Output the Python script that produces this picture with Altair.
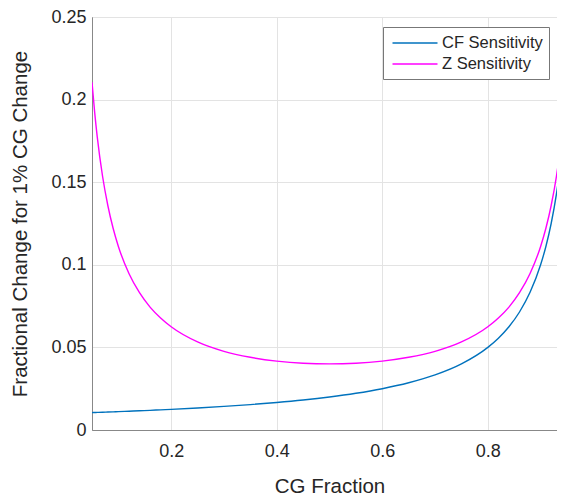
import altair as alt
import pandas as pd

cg_fraction = [0.05, 0.055, 0.06, 0.07, 0.08, 0.09, 0.10, 0.12, 0.14, 0.16, 0.18,
               0.20, 0.25, 0.30, 0.35, 0.40, 0.45, 0.50, 0.55, 0.60, 0.65, 0.70,
               0.75, 0.80, 0.82, 0.84, 0.86, 0.88, 0.90, 0.91, 0.92, 0.93, 0.94,
               0.945, 0.95]
cf_sensitivity = [0.01053, 0.01058, 0.01064, 0.01075, 0.01087, 0.01099, 0.01111,
                  0.01136, 0.01163, 0.01190, 0.01220, 0.0125, 0.01333, 0.01429,
                  0.01538, 0.01667, 0.01818, 0.0200, 0.02222, 0.0250, 0.02857,
                  0.03333, 0.0400, 0.0500, 0.05556, 0.0625, 0.07143, 0.08333,
                  0.1000, 0.1111, 0.1250, 0.1429, 0.1667, 0.1818, 0.2000]
z_sensitivity = [0.2105, 0.1924, 0.1773, 0.1536, 0.1359, 0.1221, 0.1111, 0.0947,
                 0.0831, 0.0744, 0.0678, 0.0625, 0.0533, 0.0476, 0.0440, 0.0417,
                 0.0404, 0.0400, 0.0404, 0.0417, 0.0440, 0.0476, 0.0533, 0.0625,
                 0.0678, 0.0744, 0.0831, 0.0947, 0.1111, 0.1221, 0.1359, 0.1536,
                 0.1773, 0.1924, 0.2105]
series_names = ["CF Sensitivity", "Z Sensitivity"]
series_colors = ["#0072BD", "#FF00FF"]

rows = []
for x, a, b in zip(cg_fraction, cf_sensitivity, z_sensitivity):
    rows.append({"x": x, "y": a, "s": series_names[0]})
    rows.append({"x": x, "y": b, "s": series_names[1]})
df = pd.DataFrame(rows)

FONT = "Liberation Sans"
TXT = "#262626"

chart = alt.Chart(df).mark_line(strokeWidth=1.4, interpolate="monotone", clip=True).encode(
    x=alt.X("x:Q", title="CG Fraction",
            scale=alt.Scale(domain=[0.05, 0.95], nice=False, zero=False),
            axis=alt.Axis(values=[0.2, 0.4, 0.6, 0.8], format=".1~f",
                          labelPadding=12, titlePadding=16)),
    y=alt.Y("y:Q", title="Fractional Change for 1% CG Change",
            scale=alt.Scale(domain=[0, 0.25], nice=False),
            axis=alt.Axis(values=[0, 0.05, 0.1, 0.15, 0.2, 0.25], format="~g",
                          labelPadding=6, titlePadding=20)),
    color=alt.Color("s:N", sort=series_names,
                    scale=alt.Scale(domain=series_names, range=series_colors),
                    legend=alt.Legend(title=None, orient="none", legendX=291, legendY=10,
                                      symbolType="M-2.5,0H2.5", symbolSize=324,
                                      symbolStrokeWidth=1.5, symbolOffset=16,
                                      labelFontSize=16.5, labelFont=FONT,
                                      labelColor=TXT, labelOffset=17,
                                      fillColor="white", strokeColor="#777",
                                      padding=6, rowPadding=2)),
).properties(
    width=475, height=413,
    autosize=alt.AutoSizeParams(type="none"),
    padding={"left": 84, "top": 9, "right": -10, "bottom": 66},
).configure_view(
    stroke="#888", strokeWidth=1
).configure_axis(
    grid=True, gridColor="#e3e3e3", gridWidth=1,
    domainColor="#888", domainWidth=1, ticks=False,
    labelFont=FONT, labelFontSize=18, labelColor=TXT,
    titleFont=FONT, titleFontSize=20.5, titleColor=TXT, titleFontWeight="normal",
)

chart.save("out.html", embed_options={"renderer": "svg", "actions": False})
